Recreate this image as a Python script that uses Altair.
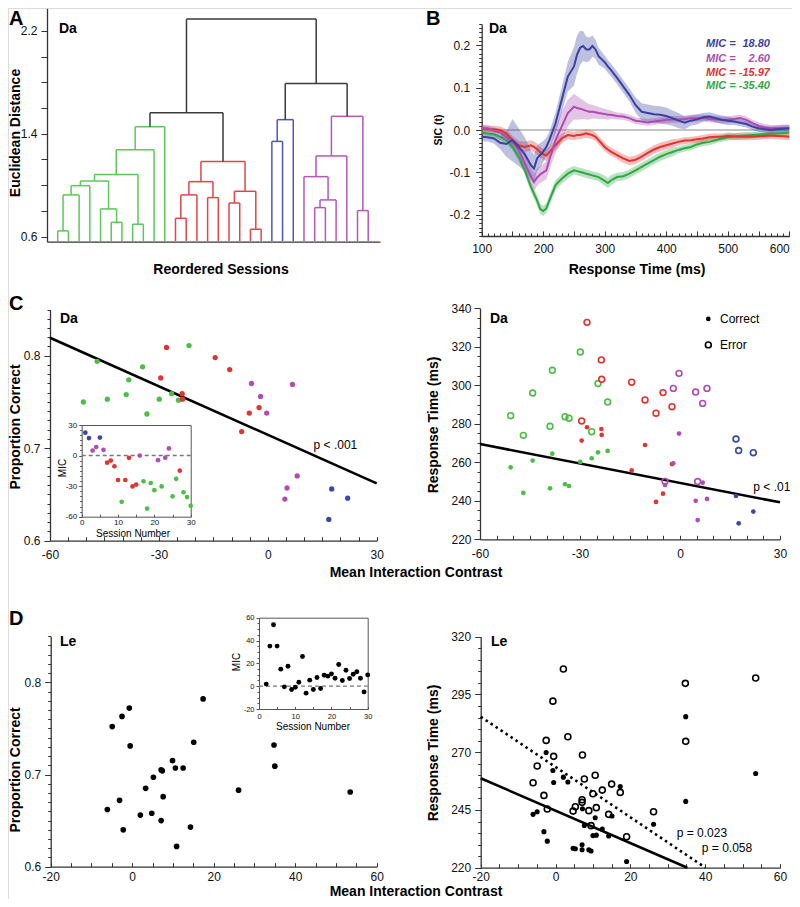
import altair as alt
import pandas as pd

W, H = 784, 891
FONT = "Liberation Sans"
AXC = "#333333"

BLUE, MAG, RED, GREEN = "#3b46aa", "#b04cb4", "#e0342f", "#4cbd47"

# ---------------- Panel A: dendrogram (merge list: id, left, right, height, cluster) ----------------
DENDRO_BASE = 0.565
DENDRO_MERGES = [
    ("g1", 1, 2, 0.644, "g"), ("g2", "g1", 3, 0.924, "g"), ("g3", "g2", 4, 0.996, "g"),
    ("g4", 6, 7, 0.711, "g"), ("g5", 5, "g4", 0.815, "g"), ("g6", "g3", "g5", 1.032, "g"),
    ("g7", 8, 9, 0.696, "g"), ("g8", "g6", "g7", 1.082, "g"), ("g9", "g8", 10, 1.276, "g"),
    ("G", "g9", 11, 1.454, "g"),
    ("r1", 12, 13, 0.742, "r"), ("r2", "r1", 14, 0.924, "r"), ("r3", 15, 16, 0.903, "r"),
    ("r4", "r2", "r3", 1.027, "r"), ("r5", 17, 18, 0.861, "r"), ("r6", 19, 20, 0.657, "r"),
    ("r7", "r5", "r6", 0.952, "r"), ("R", "r4", "r7", 1.183, "r"),
    ("GR", "G", "R", 1.563, "k"),
    ("b1", 21, 22, 1.340, "b"), ("B", "b1", 23, 1.509, "b"),
    ("m1", 25, 26, 0.825, "m"), ("m2", "m1", 27, 0.885, "m"), ("m3", 24, "m2", 1.066, "m"),
    ("m4", "m3", 28, 1.227, "m"), ("m5", 29, 30, 0.802, "m"), ("M", "m4", "m5", 1.535, "m"),
    ("BM", "B", "M", 1.791, "k"), ("TOP", "GR", "BM", 2.291, "k"),
]
DENDRO_COLORS = {"g": "#5cc859", "r": "#e04649", "b": "#4f57b4", "m": "#b457b8", "k": "#3a3a3a"}

# ---------------- Panel B: SIC curves ----------------
SIC_TIMES = [100, 110, 120, 130, 140, 150, 160, 170, 180, 185, 190, 195, 200, 205, 210, 220, 230, 240, 250,
             255, 260, 265, 270, 275, 280, 285, 290, 300, 305, 310, 320, 330, 340, 350, 360, 370, 380, 390,
             400, 410, 420, 430, 440, 450, 460, 470, 480, 490, 500, 510, 520, 530, 540, 550, 560, 570, 580,
             590, 600]
SIC_BLUE = [-0.016, -0.017, -0.020, -0.030, -0.033, -0.024, -0.040, -0.057, -0.083,
            -0.091, -0.067, -0.059, -0.051, -0.040, -0.024,
            0.016, 0.071, 0.126, 0.150,
            0.178, 0.194, 0.198, 0.190, 0.190, 0.198, 0.190, 0.174,
            0.160, 0.150, 0.142,
            0.123, 0.103, 0.083, 0.059, 0.043, 0.040, 0.037, 0.036, 0.033, 0.028,
            0.022, 0.017, 0.022, 0.025, 0.030, 0.032, 0.028, 0.024, 0.022, 0.020,
            0.017, 0.014, 0.008, 0.004, 0.002, 0.000, 0.002, 0.003, 0.004]
SIC_BLUE_HW = [0.010, 0.010, 0.012, 0.015, 0.030, 0.050, 0.045, 0.040, 0.035,
               0.032, 0.030, 0.028, 0.025, 0.022, 0.020,
               0.025, 0.030, 0.035, 0.045,
               0.045, 0.040, 0.035, 0.030, 0.028, 0.025, 0.022, 0.020,
               0.015, 0.015, 0.015,
               0.015, 0.015, 0.015, 0.018, 0.020, 0.020, 0.020, 0.020, 0.020, 0.018,
               0.018, 0.015, 0.012, 0.012, 0.010, 0.010, 0.010, 0.010, 0.010, 0.008,
               0.008, 0.008, 0.008, 0.008, 0.008, 0.008, 0.008, 0.008, 0.008]
SIC_MAG = [0.005, 0.004, -0.002, -0.006, -0.016, -0.028, -0.047, -0.079, -0.110,
           -0.123, -0.112, -0.105, -0.100, -0.095, -0.070,
           -0.024, 0.008, 0.040, 0.055,
           0.052, 0.050, 0.048, 0.045, 0.043, 0.043, 0.042, 0.040,
           0.038, 0.036, 0.036,
           0.033, 0.032, 0.028, 0.022, 0.020, 0.018, 0.020, 0.022, 0.024, 0.025,
           0.025, 0.026, 0.028, 0.028, 0.028, 0.026, 0.025, 0.024, 0.024, 0.026,
           0.028, 0.024, 0.016, 0.010, 0.006, 0.004, 0.004, 0.005, 0.005]
SIC_MAG_HW = [0.008, 0.008, 0.008, 0.008, 0.008, 0.010, 0.015, 0.020, 0.020,
              0.020, 0.020, 0.020, 0.020, 0.022, 0.025,
              0.030, 0.035, 0.032, 0.030,
              0.028, 0.025, 0.022, 0.020, 0.018, 0.016, 0.015, 0.014,
              0.012, 0.012, 0.010,
              0.008, 0.008, 0.008, 0.008, 0.008, 0.008, 0.008, 0.008, 0.008, 0.008,
              0.008, 0.008, 0.008, 0.008, 0.008, 0.008, 0.008, 0.008, 0.008, 0.008,
              0.008, 0.008, 0.008, 0.008, 0.008, 0.008, 0.008, 0.008, 0.008]
SIC_RED = [0.004, 0.002, 0.002, 0.000, -0.008, -0.024, -0.036, -0.040, -0.036,
           -0.040, -0.045, -0.052, -0.057, -0.060, -0.052,
           -0.036, -0.020, -0.012, -0.014,
           -0.012, -0.012, -0.010, -0.008, -0.010, -0.012, -0.016, -0.024,
           -0.040, -0.046, -0.051,
           -0.059, -0.067, -0.073, -0.070, -0.063, -0.054, -0.046, -0.040, -0.036, -0.032,
           -0.028, -0.025, -0.024, -0.022, -0.020, -0.017, -0.016, -0.016, -0.014, -0.015,
           -0.016, -0.016, -0.016, -0.015, -0.014, -0.013, -0.014, -0.015, -0.016]
SIC_RED_HW = [0.008, 0.008, 0.008, 0.008, 0.010, 0.010, 0.010, 0.012, 0.012,
              0.013, 0.013, 0.013, 0.013, 0.013, 0.013,
              0.012, 0.012, 0.010, 0.010,
              0.010, 0.010, 0.010, 0.010, 0.010, 0.010, 0.010, 0.010,
              0.010, 0.010, 0.010,
              0.010, 0.010, 0.010, 0.010, 0.010, 0.010, 0.010, 0.010, 0.010, 0.010,
              0.008, 0.008, 0.008, 0.008, 0.008, 0.008, 0.008, 0.008, 0.008, 0.008,
              0.008, 0.008, 0.008, 0.008, 0.008, 0.008, 0.008, 0.008, 0.008]
SIC_GREEN = [-0.006, -0.008, -0.010, -0.016, -0.024, -0.040, -0.063, -0.095, -0.134,
             -0.150, -0.166, -0.186, -0.191, -0.185, -0.166,
             -0.130, -0.115, -0.103, -0.095,
             -0.097, -0.099, -0.101, -0.103, -0.105, -0.107, -0.109, -0.111,
             -0.120, -0.125, -0.119,
             -0.111, -0.109, -0.103, -0.095, -0.087, -0.079, -0.071, -0.063, -0.057, -0.052,
             -0.047, -0.043, -0.040, -0.034, -0.030, -0.028, -0.024, -0.020, -0.017, -0.016,
             -0.014, -0.013, -0.012, -0.011, -0.010, -0.009, -0.008, -0.007, -0.006]
SIC_GREEN_HW = [0.006, 0.006, 0.006, 0.008, 0.008, 0.008, 0.010, 0.010, 0.012,
                0.012, 0.012, 0.012, 0.012, 0.012, 0.012,
                0.012, 0.012, 0.012, 0.010,
                0.010, 0.010, 0.010, 0.010, 0.010, 0.010, 0.010, 0.010,
                0.012, 0.012, 0.012,
                0.010, 0.010, 0.010, 0.010, 0.010, 0.010, 0.010, 0.010, 0.010, 0.010,
                0.008, 0.008, 0.008, 0.008, 0.008, 0.008, 0.008, 0.008, 0.008, 0.008,
                0.008, 0.008, 0.008, 0.008, 0.008, 0.008, 0.008, 0.008, 0.008]
SIC_LEGEND_NUM = ["18.80", "2.60", "-15.97", "-35.40"]
SIC_LEGEND_Y = [0.203, 0.168, 0.134, 0.104]
SIC_COLORS = ["#3a40a2", "#ad4bb0", "#df3430", "#2fa744"]

# ---------------- Panel C (monkey Da) ----------------
C_GREEN_MIC = [-50.8, -47.0, -44.2, -39.0, -38.3, -34.5, -33.3, -29.9, -26.5, -24.6, -21.7]
C_GREEN_PC = [0.750, 0.794, 0.753, 0.758, 0.774, 0.788, 0.737, 0.753, 0.759, 0.752, 0.811]
C_GREEN_RTC = [257.4, 244.1, 260.9, 246.5, 264.5, 248.6, 247.7, 260.2, 262.1, 265.2, 265.9]
C_GREEN_RTE = [284.2, 274.0, 296.0, 278.7, 307.8, 283.7, 282.9, 317.3, 275.9, 300.9, 291.3]
C_RED_MIC = [-29.5, -27.9, -23.6, -23.5, -14.5, -10.5, -7.2, -5.1, -2.4]
C_RED_PC = [0.776, 0.809, 0.759, 0.753, 0.798, 0.785, 0.718, 0.738, 0.744]
C_RED_RTC = [271.3, 278.2, 277.3, 274.2, 255.8, 269.0, 239.4, 243.7, 259.1]
C_RED_RTE = [281.5, 332.7, 313.2, 303.1, 301.6, 292.4, 285.5, 296.2, 288.9]
C_MAG_MIC = [-4.5, -2.0, -0.3, 4.7, 5.3, 6.8, 8.1]
C_MAG_PC = [0.770, 0.756, 0.738, 0.645, 0.657, 0.769, 0.670]
C_MAG_RTC = [248.2, 259.5, 274.9, 240.0, 230.0, 249.4, 241.0]
C_MAG_RTE = [250.1, 298.4, 306.2, 296.5, 250.0, 290.6, 298.4]
C_BLUE_MIC = [16.8, 17.6, 22.0]
C_BLUE_PC = [0.623, 0.656, 0.646]
C_BLUE_RTC = [242.5, 228.3, 234.4]
C_BLUE_RTE = [272.1, 266.1, 265.0]
C_PC_FIT = (0.7145, -0.00175)
C_RT_FIT = (249.3, -0.3367)

C_INSET_SESSION = [1, 2, 3, 4, 5, 6, 7, 8, 9, 10, 11, 12, 13, 14, 15, 16, 17, 18, 19, 20,
                   21, 22, 23, 24, 25, 26, 27, 28, 29, 30]
C_INSET_MIC = [22.5, 17.2, 4.9, 8.4, 17.7, 5.6, -7.0, -4.9, -10.5, -24.0, -45.4, -24.0, -2.2, -30.3,
               -28.5, 0.0, -25.2, -52.0, -26.9, -34.0, -4.5, -30.3, -2.1, 7.0, -40.0, -22.8, -14.8,
               -36.0, -40.7, -49.3]
C_INSET_CLUSTER = ["b", "b", "m", "m", "b", "m", "r", "r", "r", "r", "g", "r", "r", "r", "r", "m",
                   "g", "g", "g", "g", "m", "g", "m", "m", "g", "g", "r", "g", "g", "g"]

# ---------------- Panel D (monkey Le) ----------------
D_PC_MIC = [-6.1, -4.9, -3.1, -2.5, -2.2, -0.7, -0.5, 2.0, 3.3, 4.8, 5.2, 7.1, 7.4, 7.6, 7.1, 9.9,
            10.6, 10.9, 12.5, 14.3, 15.1, 17.4, 26.1, 34.8, 35.0, 53.5]
D_PC = [0.662, 0.752, 0.672, 0.763, 0.640, 0.772, 0.731, 0.656, 0.685, 0.658, 0.697, 0.705, 0.704,
        0.676, 0.650, 0.715, 0.707, 0.622, 0.707, 0.643, 0.735, 0.782, 0.683, 0.732, 0.709, 0.681]
D_INSET_SESSION = [2, 3, 4, 5, 6, 7, 8, 9, 10, 11, 12, 13, 14, 15, 16, 17, 18, 19, 20, 21, 22, 23,
                   24, 25, 26, 27, 28, 29, 30]
D_INSET_MIC = [1.8, 35.1, 53.8, 35.1, 14.9, -0.6, 17.5, -2.9, -0.9, 3.5, 26.0, -6.1, 5.3, -2.9, 7.6,
               -2.0, 9.6, 8.8, 10.8, 7.0, 19.0, 5.0, 14.0, 6.7, 10.5, 12.6, 7.0, -5.0, 9.9]
D_ERR_MIC = [2.1, -0.7, 34.7, 53.5, 34.8, -2.5, 3.3, -0.5, 7.2, -4.9, 10.6, -6.0, 7.7, 15.0, 12.5,
             10.0, 17.3, -3.1, 7.1, 7.1, -2.2, 5.3, 4.7, 8.9, 10.9, 14.2, 26.2, 9.5, 19.0]
D_ERR_RT = [306.0, 292.1, 299.8, 302.1, 274.7, 275.1, 276.7, 268.2, 268.8, 264.0, 260.0, 256.8,
            258.4, 256.2, 253.6, 252.0, 252.6, 251.3, 249.4, 248.3, 245.4, 246.4, 244.5, 244.7,
            246.0, 243.1, 244.2, 238.2, 233.4]
D_COR_MIC = [34.8, 53.5, -2.5, -0.7, -0.5, 2.1, 3.3, 17.3, 15.1, -6.0, -4.9, 7.2, 10.6, 7.7, 12.5,
             14.2, 10.0, 10.9, -3.1, -2.2, 4.7, 5.3, 7.1, 7.1, 8.9, 9.5, 19.0, 26.2, 34.8]
D_COR_RT = [285.4, 260.8, 269.9, 262.1, 256.9, 259.2, 257.1, 255.1, 242.4, 243.1, 244.2, 245.5,
            241.6, 238.3, 236.7, 233.7, 233.9, 234.1, 235.6, 231.5, 228.4, 228.2, 229.9, 227.8,
            227.8, 227.2, 222.7, 238.8, 248.7]
D_FIT_CORRECT = (244.7, -0.701)
D_FIT_ERROR = (263.6, -1.088)

CL_COLOR = {"g": GREEN, "r": RED, "m": MAG, "b": BLUE}


# ---------------- helpers ----------------
def sc(d, r):
    return alt.Scale(domain=list(d), range=list(r), nice=False, zero=False)


def P(xd, xr, yd, yr):
    return {"xd": xd, "xr": xr, "yd": yd, "yr": yr}


def XE(p, f):
    return alt.X(f, scale=sc(p["xd"], p["xr"]), axis=None)


def YE(p, f):
    return alt.Y(f, scale=sc(p["yd"], p["yr"]), axis=None)


def sign_expr(fmt):
    return "(datum.value < 0 ? '-' : '') + format(abs(datum.value), '" + fmt + "')"


def ax_layer(p, xaxis=None, yaxis=None):
    df = pd.DataFrame({"u": [p["xd"][0]], "v": [p["yd"][0]]})
    return alt.Chart(df).mark_point(opacity=0).encode(
        x=alt.X("u:Q", scale=sc(p["xd"], p["xr"]), axis=xaxis),
        y=alt.Y("v:Q", scale=sc(p["yd"], p["yr"]), axis=yaxis))


def yax(p, vals, size=6, labels=True, domain=True, fmt="d", pad=4, fs=12, dw=1.3, col=AXC):
    kw = dict(orient="left", offset=-p["xr"][0], values=vals, tickSize=size, tickWidth=1,
              tickColor=col, domain=domain, domainColor=col, domainWidth=dw, grid=False,
              title=None, labels=labels)
    if labels:
        kw.update(labelExpr=sign_expr(fmt), labelPadding=pad, labelFontSize=fs, labelFont=FONT,
                  labelColor="#111111", labelFlush=False, labelOverlap=False)
    return alt.Axis(**kw)


def xbot(p, vals=None, labels=True, fmt="d", pad=8, fs=12, dw=1.3, col=AXC, domain=True, align="center"):
    kw = dict(orient="bottom", offset=p["yr"][0] - H, ticks=False, domain=domain, domainColor=col,
              domainWidth=dw, grid=False, title=None, labels=labels)
    if vals is not None:
        kw["values"] = vals
    if labels:
        kw.update(labelExpr=sign_expr(fmt), labelPadding=pad, labelFontSize=fs, labelFont=FONT,
                  labelColor="#111111", labelFlush=False, labelOverlap=False, labelAlign=align)
    return alt.Axis(**kw)


def xin(p, vals, size, col=AXC):
    return alt.Axis(orient="top", offset=-p["yr"][0], values=vals, tickSize=size, tickWidth=1,
                    tickColor=col, labels=False, domain=False, grid=False, title=None)


def frame_top(p, col="#555555"):
    return alt.Axis(orient="top", offset=-p["yr"][1], ticks=False, labels=False, domain=True,
                    domainColor=col, domainWidth=1, grid=False, title=None)


def frame_right(p, col="#555555"):
    return alt.Axis(orient="right", offset=p["xr"][1] - W, ticks=False, labels=False, domain=True,
                    domainColor=col, domainWidth=1, grid=False, title=None)


def label(text, x, y, size=14, weight="bold", angle=0, align="center", baseline="middle",
          color="#000000", style="normal"):
    mk = dict(text=text, font=FONT, fontSize=size, fontWeight=weight, align=align,
              baseline=baseline, color=color, fontStyle=style)
    if angle:
        mk["angle"] = angle
    return alt.Chart(pd.DataFrame({"k": [0]})).mark_text(**mk).encode(x=alt.value(x), y=alt.value(y))


def dtext(p, xs, ys, texts, colors=None, size=12, weight="normal", align="left", style="normal"):
    df = pd.DataFrame({"x": xs, "y": ys, "t": texts,
                       "c": colors if colors else ["#000000"] * len(xs)})
    return alt.Chart(df).mark_text(font=FONT, fontSize=size, fontWeight=weight, align=align,
                                   baseline="middle", fontStyle=style).encode(
        x=XE(p, "x:Q"), y=YE(p, "y:Q"), text="t:N", color=alt.Color("c:N", scale=None))


def steps(a, b, s, exclude=()):
    out = []
    n = int(round((b - a) / s))
    for i in range(n + 1):
        v = round(a + i * s, 4)
        if all(abs(v - e) > 1e-9 for e in exclude):
            out.append(v)
    return out


def fit_line(p, fit, x0, x1):
    a, b = fit
    return pd.DataFrame({"x": [x0, x1], "y": [a + b * x0, a + b * x1]})


# ---------------- panel geometry (canvas pixels) ----------------
pA = P([0, 31.1], [39, 372], [0.56, 2.375], [233.7, 0.3])
pB = P([100, 600], [473.7, 781.3], [-0.25, 0.25], [228, 16])
pC1 = P([-60, 30], [42, 368.7], [0.6, 0.85], [532.7, 301.5])
pC1i = P([0, 30], [73.7, 182.7], [-60, 30], [508.7, 417])
pC2 = P([-60, 30], [472, 772], [220, 340], [531.3, 300.3])
pD1 = P([-20, 60], [42.7, 368.7], [0.6, 0.85], [858.7, 628.2])
pD1i = P([0, 30], [251, 359.7], [-20, 60], [701, 609.7])
pD2 = P([-20, 60], [472.7, 772], [220, 320], [859.7, 628.7])

layers = []

# ================= Panel A =================
layers.append(ax_layer(pA, yaxis=yax(pA, [0.6, 1.4, 2.2], fmt=".1f", size=6, pad=4)))
layers.append(ax_layer(pA, yaxis=yax(pA, [0.8, 1.0, 1.2, 1.6, 1.8, 2.0], size=6, labels=False, domain=False)))
layers.append(ax_layer(pA, xaxis=xbot(pA, labels=False)))

pos = {i: float(i) for i in range(1, 31)}
hgt = {i: DENDRO_BASE for i in range(1, 31)}
seg_rows = []
for nid, l, r, h, ck in DENDRO_MERGES:
    c = DENDRO_COLORS[ck]
    seg_rows.append(dict(x=pos[l], y=hgt[l], x2=pos[l], y2=h, c=c))
    seg_rows.append(dict(x=pos[l], y=h, x2=pos[r], y2=h, c=c))
    seg_rows.append(dict(x=pos[r], y=hgt[r], x2=pos[r], y2=h, c=c))
    pos[nid] = (pos[l] + pos[r]) / 2
    hgt[nid] = h
layers.append(alt.Chart(pd.DataFrame(seg_rows)).mark_rule(strokeWidth=1.5).encode(
    x=XE(pA, "x:Q"), x2="x2:Q", y=YE(pA, "y:Q"), y2="y2:Q", color=alt.Color("c:N", scale=None)))

# ================= Panel B =================
layers.append(ax_layer(pB, yaxis=yax(pB, [-0.2, -0.1, 0.0, 0.1, 0.2], fmt=".1f", size=6, pad=6)))
layers.append(ax_layer(pB, yaxis=yax(pB, steps(-0.25, 0.25, 0.01, exclude=[-0.2, -0.1, 0, 0.1, 0.2]),
                                     size=3, labels=False, domain=False)))
layers.append(ax_layer(pB, xaxis=xbot(pB, [100, 200, 300, 400, 500], pad=7)))
layers.append(ax_layer(pB, xaxis=xbot(pB, [600], pad=7, domain=False, align="right")))
layers.append(ax_layer(pB, xaxis=xin(pB, steps(100, 600, 50), 5)))
layers.append(ax_layer(pB, xaxis=xin(pB, steps(100, 600, 10, exclude=steps(100, 600, 50)), 3)))
layers.append(alt.Chart(pd.DataFrame({"x0": [100], "x1": [600], "y": [0.0]})).mark_rule(
    color="#8a8a8a", strokeWidth=1).encode(x=XE(pB, "x0:Q"), x2="x1:Q", y=YE(pB, "y:Q")))

sic_series = [(SIC_GREEN, SIC_GREEN_HW, SIC_COLORS[3]), (SIC_RED, SIC_RED_HW, SIC_COLORS[2]),
              (SIC_MAG, SIC_MAG_HW, SIC_COLORS[1]), (SIC_BLUE, SIC_BLUE_HW, SIC_COLORS[0])]
for vals, hw, col in sic_series:
    df = pd.DataFrame({"t": SIC_TIMES, "v": vals,
                       "lo": [v - w for v, w in zip(vals, hw)],
                       "hi": [v + w for v, w in zip(vals, hw)]})
    layers.append(alt.Chart(df).mark_area(color=col, opacity=0.33).encode(
        x=XE(pB, "t:Q"), y=YE(pB, "lo:Q"), y2="hi:Q"))
for vals, hw, col in sic_series:
    df = pd.DataFrame({"t": SIC_TIMES, "v": vals})
    layers.append(alt.Chart(df).mark_line(color=col, strokeWidth=2).encode(
        x=XE(pB, "t:Q"), y=YE(pB, "v:Q")))
layers.append(dtext(pB, [464.6] * 4, SIC_LEGEND_Y, ["MIC ="] * 4, SIC_COLORS, size=11,
                    weight="bold", align="left", style="italic"))
layers.append(dtext(pB, [568.6] * 4, SIC_LEGEND_Y, SIC_LEGEND_NUM, SIC_COLORS, size=11,
                    weight="bold", align="right", style="italic"))

# ================= Panel C left =================
layers.append(ax_layer(pC1, yaxis=yax(pC1, [0.6, 0.7, 0.8], fmt=".1f", size=6, pad=4)))
layers.append(ax_layer(pC1, yaxis=yax(pC1, steps(0.6, 0.85, 0.01, exclude=[0.6, 0.7, 0.8]),
                                      size=3, labels=False, domain=False)))
layers.append(ax_layer(pC1, xaxis=xbot(pC1, [-60, -30, 0, 30], pad=9)))
layers.append(ax_layer(pC1, xaxis=xin(pC1, steps(-60, 30, 5), 4)))

c_rows = []
for mics, pcs, rtc, rte, ck in [(C_GREEN_MIC, C_GREEN_PC, C_GREEN_RTC, C_GREEN_RTE, "g"),
                                (C_RED_MIC, C_RED_PC, C_RED_RTC, C_RED_RTE, "r"),
                                (C_MAG_MIC, C_MAG_PC, C_MAG_RTC, C_MAG_RTE, "m"),
                                (C_BLUE_MIC, C_BLUE_PC, C_BLUE_RTC, C_BLUE_RTE, "b")]:
    for m, pc, c1, c2 in zip(mics, pcs, rtc, rte):
        c_rows.append(dict(mic=m, pc=pc, rtc=c1, rte=c2, c=CL_COLOR[ck]))
c_df = pd.DataFrame(c_rows)

layers.append(alt.Chart(fit_line(pC1, C_PC_FIT, -60, 30)).mark_line(color="#000000", strokeWidth=2.6).encode(
    x=XE(pC1, "x:Q"), y=YE(pC1, "y:Q")))
layers.append(alt.Chart(c_df).mark_circle(size=28, opacity=1).encode(
    x=XE(pC1, "mic:Q"), y=YE(pC1, "pc:Q"), color=alt.Color("c:N", scale=None)))
layers.append(dtext(pC1, [12.6], [0.703], ["p < .001"], size=12))

# inset C
layers.append(ax_layer(pC1i, yaxis=yax(pC1i, [-60, -30, 0, 30], size=3, pad=2, fs=8, dw=1, col="#555555")))
layers.append(ax_layer(pC1i, yaxis=yax(pC1i, steps(-60, 30, 5, exclude=[-60, -30, 0, 30]), size=2,
                                       labels=False, domain=False, col="#555555")))
layers.append(ax_layer(pC1i, xaxis=xbot(pC1i, [0, 10, 20, 30], pad=2, fs=8, dw=1, col="#555555")))
layers.append(ax_layer(pC1i, xaxis=xin(pC1i, steps(0, 30, 5), 2.5, col="#555555")))
layers.append(ax_layer(pC1i, xaxis=frame_top(pC1i)))
layers.append(ax_layer(pC1i, yaxis=frame_right(pC1i)))
layers.append(alt.Chart(pd.DataFrame({"x0": [0], "x1": [30], "y": [0.0]})).mark_rule(
    color="#777777", strokeWidth=1.4, strokeDash=[4, 3]).encode(x=XE(pC1i, "x0:Q"), x2="x1:Q", y=YE(pC1i, "y:Q")))
ci_df = pd.DataFrame({"s": C_INSET_SESSION, "m": C_INSET_MIC,
                      "c": [CL_COLOR[k] for k in C_INSET_CLUSTER]})
layers.append(alt.Chart(ci_df).mark_circle(size=22, opacity=1).encode(
    x=XE(pC1i, "s:Q"), y=YE(pC1i, "m:Q"), color=alt.Color("c:N", scale=None)))

# ================= Panel C right =================
layers.append(ax_layer(pC2, yaxis=yax(pC2, [220, 240, 260, 280, 300, 320, 340], size=6, pad=3)))
layers.append(ax_layer(pC2, yaxis=yax(pC2, steps(220, 340, 5, exclude=steps(220, 340, 20)), size=3,
                                      labels=False, domain=False)))
layers.append(ax_layer(pC2, xaxis=xbot(pC2, [-60, -30, 0, 30], pad=9)))
layers.append(ax_layer(pC2, xaxis=xin(pC2, steps(-60, 30, 5), 4)))
layers.append(alt.Chart(fit_line(pC2, C_RT_FIT, -60, 30)).mark_line(color="#000000", strokeWidth=2.6).encode(
    x=XE(pC2, "x:Q"), y=YE(pC2, "y:Q")))
layers.append(alt.Chart(c_df).mark_circle(size=22, opacity=1).encode(
    x=XE(pC2, "mic:Q"), y=YE(pC2, "rtc:Q"), color=alt.Color("c:N", scale=None)))
layers.append(alt.Chart(c_df).mark_point(size=34, filled=False, strokeWidth=1.6, opacity=1).encode(
    x=XE(pC2, "mic:Q"), y=YE(pC2, "rte:Q"), color=alt.Color("c:N", scale=None)))
layers.append(alt.Chart(pd.DataFrame({"x": [8.5], "y": [334.5]})).mark_circle(size=22, color="#000000", opacity=1).encode(
    x=XE(pC2, "x:Q"), y=YE(pC2, "y:Q")))
layers.append(alt.Chart(pd.DataFrame({"x": [8.5], "y": [321.0]})).mark_point(
    size=34, filled=False, strokeWidth=1.6, color="#000000", opacity=1).encode(x=XE(pC2, "x:Q"), y=YE(pC2, "y:Q")))
layers.append(dtext(pC2, [12.0, 12.0], [334.5, 321.0], ["Correct", "Error"], size=12))
layers.append(dtext(pC2, [22.0], [247.4], ["p < .01"], size=12))

# ================= Panel D left =================
layers.append(ax_layer(pD1, yaxis=yax(pD1, [0.6, 0.7, 0.8], fmt=".1f", size=6, pad=4)))
layers.append(ax_layer(pD1, yaxis=yax(pD1, steps(0.6, 0.85, 0.01, exclude=[0.6, 0.7, 0.8]),
                                      size=3, labels=False, domain=False)))
layers.append(ax_layer(pD1, xaxis=xbot(pD1, [-20, 0, 20, 40, 60], pad=5)))
layers.append(ax_layer(pD1, xaxis=xin(pD1, steps(-20, 60, 5), 4)))
layers.append(alt.Chart(pd.DataFrame({"m": D_PC_MIC, "pc": D_PC})).mark_circle(
    size=32, color="#000000", opacity=1).encode(x=XE(pD1, "m:Q"), y=YE(pD1, "pc:Q")))

# inset D
layers.append(ax_layer(pD1i, yaxis=yax(pD1i, [-20, 0, 20, 40, 60], size=3, pad=2, fs=7.5, dw=1, col="#555555")))
layers.append(ax_layer(pD1i, yaxis=yax(pD1i, steps(-20, 60, 5, exclude=[-20, 0, 20, 40, 60]), size=2,
                                       labels=False, domain=False, col="#555555")))
layers.append(ax_layer(pD1i, xaxis=xbot(pD1i, [0, 10, 20, 30], pad=3, fs=7.5, dw=1, col="#555555")))
layers.append(ax_layer(pD1i, xaxis=xin(pD1i, steps(0, 30, 5), 2.5, col="#555555")))
layers.append(ax_layer(pD1i, xaxis=frame_top(pD1i)))
layers.append(ax_layer(pD1i, yaxis=frame_right(pD1i)))
layers.append(alt.Chart(pd.DataFrame({"x0": [0], "x1": [30], "y": [0.0]})).mark_rule(
    color="#777777", strokeWidth=1.4, strokeDash=[4, 3]).encode(x=XE(pD1i, "x0:Q"), x2="x1:Q", y=YE(pD1i, "y:Q")))
layers.append(alt.Chart(pd.DataFrame({"s": D_INSET_SESSION, "m": D_INSET_MIC})).mark_circle(
    size=24, color="#000000", opacity=1).encode(x=XE(pD1i, "s:Q"), y=YE(pD1i, "m:Q")))

# ================= Panel D right =================
layers.append(ax_layer(pD2, yaxis=yax(pD2, [220, 245, 270, 295, 320], size=6, pad=4)))
layers.append(ax_layer(pD2, yaxis=yax(pD2, steps(220, 320, 5, exclude=[220, 245, 270, 295, 320]), size=3,
                                      labels=False, domain=False)))
layers.append(ax_layer(pD2, xaxis=xbot(pD2, [-20, 0, 20, 40, 60], pad=4)))
layers.append(ax_layer(pD2, xaxis=xin(pD2, steps(-20, 60, 5), 4)))
xe_c = (220 - D_FIT_CORRECT[0]) / D_FIT_CORRECT[1]
xe_e = (220 - D_FIT_ERROR[0]) / D_FIT_ERROR[1]
layers.append(alt.Chart(fit_line(pD2, D_FIT_CORRECT, -20, xe_c)).mark_line(color="#000000", strokeWidth=2.6).encode(
    x=XE(pD2, "x:Q"), y=YE(pD2, "y:Q")))
layers.append(alt.Chart(fit_line(pD2, D_FIT_ERROR, -20, xe_e)).mark_line(
    color="#000000", strokeWidth=2.6, strokeDash=[2.5, 3.5]).encode(x=XE(pD2, "x:Q"), y=YE(pD2, "y:Q")))
layers.append(alt.Chart(pd.DataFrame({"m": D_ERR_MIC, "rt": D_ERR_RT})).mark_point(
    size=36, filled=False, strokeWidth=1.6, color="#000000", opacity=1).encode(x=XE(pD2, "m:Q"), y=YE(pD2, "rt:Q")))
layers.append(alt.Chart(pd.DataFrame({"m": D_COR_MIC, "rt": D_COR_RT})).mark_circle(
    size=26, color="#000000", opacity=1).encode(x=XE(pD2, "m:Q"), y=YE(pD2, "rt:Q")))
layers.append(dtext(pD2, [32.4, 39.1], [235.2, 228.4], ["p = 0.023", "p = 0.058"], size=12))

# ================= titles, tags, panel letters =================
for t, x, y in [("A", 1, 11), ("B", 418, 11), ("C", 1, 296), ("D", 1, 611)]:
    layers.append(label(t, x, y, size=20, align="left", baseline="middle"))
for t, x, y in [("Da", 51, 21), ("Da", 481, 21), ("Da", 52, 311), ("Da", 482, 311),
                ("Le", 52, 634), ("Le", 483, 634)]:
    layers.append(label(t, x, y, size=14, align="left"))
layers.append(label("Euclidean Distance", 8, 125, angle=270))
layers.append(label("Reordered Sessions", 213, 262))
layers.append(label("SIC (t)", 431, 122, size=10.5, angle=270))
layers.append(label("Response Time (ms)", 629, 262))
layers.append(label("Proportion Correct", 8, 419, angle=270))
layers.append(label("Response Time (ms)", 426, 417, angle=270))
layers.append(label("Mean Interaction Contrast", 408, 565))
layers.append(label("Proportion Correct", 8, 762, angle=270))
layers.append(label("Response Time (ms)", 426, 745, angle=270))
layers.append(label("Mean Interaction Contrast", 408, 883.5))
layers.append(label("MIC", 55, 460, size=10, weight="normal", angle=270))
layers.append(label("Session Number", 125, 526, size=10, weight="normal"))
layers.append(label("MIC", 229, 654, size=10, weight="normal", angle=270))
layers.append(label("Session Number", 305, 719, size=10, weight="normal"))

chart = alt.layer(*layers).resolve_scale(x="independent", y="independent").properties(
    width=W, height=H, autosize=alt.AutoSizeParams(type="none"), padding=0
).configure_view(stroke=None).configure(font=FONT)

chart.save("out.html", embed_options={"renderer": "svg", "actions": False})
